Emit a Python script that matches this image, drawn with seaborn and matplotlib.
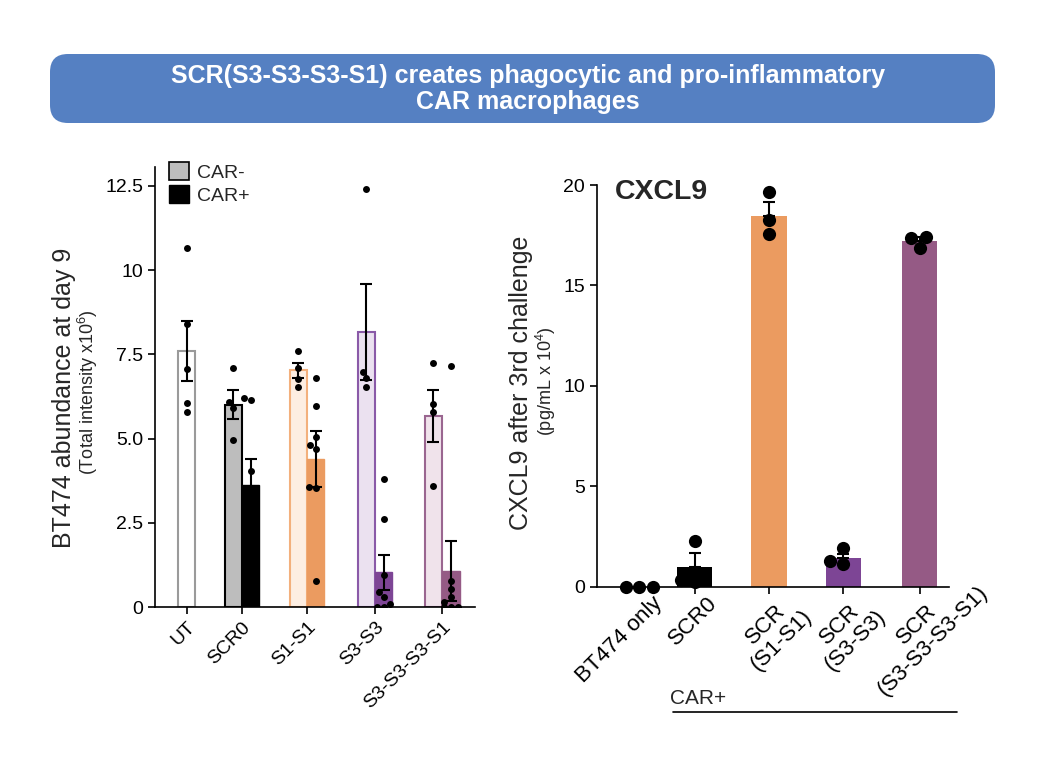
import warnings
import matplotlib
matplotlib.use("Agg")
import matplotlib.pyplot as plt
from matplotlib.patches import FancyBboxPatch, Patch
from matplotlib.lines import Line2D
from matplotlib.transforms import ScaledTranslation, Affine2D
import pandas as pd
import seaborn as sns

warnings.filterwarnings("ignore")

sns.set_style("ticks")
plt.rcParams["font.family"] = ["Liberation Sans", "DejaVu Sans"]
plt.rcParams["mathtext.default"] = "regular"
plt.rcParams["mathtext.fontset"] = "custom"
plt.rcParams["mathtext.rm"] = "Liberation Sans"

# ---- left panel: BT474 abundance at day 9 ----
left_groups = ["UT", "SCR0", "S1-S1", "S3-S3", "S3-S3-S3-S1"]
car_neg_mean = [7.6, 6.01, 7.02, 8.17, 5.67]
car_neg_sem = [0.89, 0.44, 0.23, 1.42, 0.76]
car_pos_mean = [3.62, 4.38, 1.03, 1.08]          # no CAR+ bar for UT
car_pos_sem = [0.76, 0.83, 0.52, 0.89]

ut_pts = [10.66, 8.4, 7.07, 6.06, 5.79]
scr0_neg_pts = [7.1, 6.07, 5.91, 4.96]
scr0_pos_pts = [6.2, 6.15, 4.05, 3.25, 2.35, 2.2, 1.15]
s1_neg_pts = [7.61, 7.08, 6.76, 6.52]
s1_pos_pts = [6.79, 5.96, 5.05, 4.81, 4.68, 3.57, 3.52, 0.77]
s3_neg_pts = [12.42, 6.98, 6.79, 6.54]
s3_pos_pts = [3.8, 2.6, 0.95, 0.45, 0.3, 0.1, 0.0, 0.0]
s331_neg_pts = [7.23, 6.02, 5.78, 3.59]
s331_pos_pts = [7.14, 0.78, 0.52, 0.3, 0.16, 0.0, 0.0, 0.0]

neg_fill = ["#ffffff", "#bdbdbd", "#fdeee2", "#ebe1f0", "#f0e3eb"]
neg_edge = ["#9a9a9a", "#000000", "#f3b07c", "#8a5aa8", "#9a6690"]
pos_fill = ["#000000", "#eb9b60", "#7d4595", "#955a85"]

# ---- right panel: CXCL9 ----
right_groups = ["BT474 only", "SCR0", "SCR\n(S1-S1)", "SCR\n(S3-S3)",
                "SCR\n(S3-S3-S3-S1)"]
cxcl9_mean = [0.0, 0.97, 18.48, 1.41, 17.22]
cxcl9_sem = [0.0, 0.69, 0.66, 0.22, 0.17]
bt474_pts = [0.0, 0.0, 0.0]
scr0_pts = [2.3, 0.35, 0.25]
scr_s1_pts = [19.67, 18.26, 17.56]
scr_s3_pts = [1.91, 1.29, 1.13]
scr_s331_pts = [17.35, 17.43, 16.85]
right_fill = ["#000000", "#000000", "#eb9b60", "#7d4595", "#955a85"]

# layout (axis units)
left_ticks = [0.0, 1.0, 2.175, 3.405, 4.617]
bw_left = 0.316
right_ticks = [0.25, 1.0, 2.0, 3.0, 4.04]
bw_right = 0.473

W, H = 1063, 766
fig = plt.figure(figsize=(W / 100, H / 100), dpi=100)

# title banner
banner = FancyBboxPatch((0.50, 6.43), 9.45, 0.69,
                        boxstyle="round,pad=0,rounding_size=0.18",
                        transform=fig.dpi_scale_trans,
                        facecolor="#5580c2", edgecolor="none")
fig.patches.append(banner)
fig.text(528 / W, 1 - 89 / H,
         "SCR(S3-S3-S3-S1) creates phagocytic and pro-inflammatory\nCAR macrophages",
         ha="center", va="center", color="white", fontsize=18,
         fontweight="bold", linespacing=1.12)

ax1 = fig.add_axes([155 / W, 1 - 607 / H, 320 / W, 440 / H])
ax2 = fig.add_axes([597 / W, 1 - 586.7 / H, 352 / W, 401.7 / H])

# left bars
neg_x = [left_ticks[0]] + [t - bw_left / 2 for t in left_ticks[1:]]
pos_x = [t + bw_left / 2 for t in left_ticks[1:]]
ax1.bar(neg_x, car_neg_mean, width=bw_left, color=neg_fill,
        edgecolor=neg_edge, linewidth=1.5, zorder=1)
ax1.bar(pos_x, car_pos_mean, width=bw_left, color=pos_fill,
        edgecolor=pos_fill, linewidth=1.0, zorder=1)
ax1.errorbar(neg_x, car_neg_mean, yerr=car_neg_sem, fmt="none",
             ecolor="black", elinewidth=1.5, capsize=4, capthick=1.5, zorder=2)
ax1.errorbar(pos_x, car_pos_mean, yerr=car_pos_sem, fmt="none",
             ecolor="black", elinewidth=1.5, capsize=4, capthick=1.5, zorder=2)

left_sets = [ut_pts, scr0_neg_pts, scr0_pos_pts, s1_neg_pts, s1_pos_pts,
             s3_neg_pts, s3_pos_pts, s331_neg_pts, s331_pos_pts]
left_pos = [neg_x[0], neg_x[1], pos_x[0], neg_x[2], pos_x[1],
            neg_x[3], pos_x[2], neg_x[4], pos_x[3]]
left_df = pd.DataFrame(
    [(p, v) for p, vals in zip(left_pos, left_sets) for v in vals],
    columns=["pos", "value"])
sns.swarmplot(data=left_df, x="pos", y="value", native_scale=True,
              orient="x", color="black", size=5, ax=ax1, zorder=3)

ax1.set_xlim(-0.573, 5.213)
ax1.set_ylim(0, 13.06)
ax1.set_yticks([0, 2.5, 5, 7.5, 10, 12.5])
ax1.set_yticklabels(["0", "2.5", "5.0", "7.5", "10", "12.5"])
ax1.set_xticks(left_ticks)
ax1.set_xticklabels(left_groups, rotation=45, ha="right",
                    rotation_mode="anchor")
ax1.set_xlabel("")
ax1.set_ylabel("")

legend_handles = [Patch(facecolor="#bdbdbd", edgecolor="black", linewidth=1.2,
                        label="CAR-"),
                  Patch(facecolor="black", edgecolor="black", label="CAR+")]
ax1.legend(handles=legend_handles, loc="upper left",
           bbox_to_anchor=(0.045, 1.011), frameon=False, fontsize=14,
           handlelength=1.0, handleheight=1.0, handletextpad=0.4,
           labelspacing=0.2, borderpad=0, borderaxespad=0)

# right bars
ax2.bar(right_ticks, cxcl9_mean, width=bw_right, color=right_fill,
        edgecolor="none", zorder=1)
ax2.errorbar(right_ticks, cxcl9_mean,
             yerr=[[0] * len(cxcl9_sem), cxcl9_sem], fmt="none",
             ecolor="black", elinewidth=1.5, capsize=4, capthick=1.5, zorder=2)

right_sets = [bt474_pts, scr0_pts, scr_s1_pts, scr_s3_pts, scr_s331_pts]
right_df = pd.DataFrame(
    [(p, v) for p, vals in zip(right_ticks, right_sets) for v in vals],
    columns=["pos", "value"])
sns.swarmplot(data=right_df, x="pos", y="value", native_scale=True,
              orient="x", color="black", size=9.5, ax=ax2, zorder=3,
              clip_on=False)

ax2.set_xlim(-0.324, 4.432)
ax2.set_ylim(0, 20)
ax2.set_yticks([0, 5, 10, 15, 20])
ax2.set_xticks(right_ticks)
ax2.set_xticklabels(right_groups, rotation=45, ha="right", va="top",
                    rotation_mode="anchor", multialignment="center",
                    fontsize=16, linespacing=1.1)
ax2.set_xlabel("")
ax2.set_ylabel("")
ax2.text(0.05, 0.983, "CXCL9", transform=ax2.transAxes, ha="left",
         va="center", fontsize=20.5, fontweight="bold")

for ax in (ax1, ax2):
    sns.despine(ax=ax)
    for s in ("left", "bottom"):
        ax.spines[s].set_linewidth(1.2)
        ax.spines[s].set_color("black")
    ax.tick_params(axis="both", length=5, width=1.2, color="black",
                   labelcolor="black")
    ax.tick_params(axis="y", labelsize=14)
ax1.tick_params(axis="x", labelsize=14)

# place the right-panel category labels like the original: the first line
# ("SCR") of two-line labels sits where a one-line label would end
fig.canvas.draw()
renderer = fig.canvas.get_renderer()
shift = ScaledTranslation(0.12, 0.06, fig.dpi_scale_trans)
for lab in ax2.get_xticklabels():
    tr = lab.get_transform() + shift
    lines = lab.get_text().split("\n")
    if len(lines) > 1:
        widths = [renderer.get_text_width_height_descent(
            ln, lab.get_fontproperties(), ismath=False)[0] for ln in lines]
        along = (max(widths) - widths[0]) / 2 * 0.7071
        tr = tr + Affine2D().translate(along - 6, along - 8)
    lab.set_transform(tr)

# axis titles
fig.text(64 / W, 1 - 398 / H, "BT474 abundance at day 9", rotation=90,
         ha="center", va="center", fontsize=18)
fig.text(88 / W, 1 - 392 / H, "(Total intensity x10$^{6}$)", rotation=90,
         ha="center", va="center", fontsize=13)
fig.text(521 / W, 1 - 383 / H, "CXCL9 after 3rd challenge", rotation=90,
         ha="center", va="center", fontsize=18)
fig.text(546 / W, 1 - 381 / H, "(pg/mL x 10$^{4}$)", rotation=90,
         ha="center", va="center", fontsize=13)

# CAR+ group bracket under right panel
fig.text(670 / W, 1 - 698 / H, "CAR+", ha="left", va="center", fontsize=15)
fig.add_artist(Line2D([673 / W, 957 / W], [1 - 712 / H, 1 - 712 / H],
                      color="black", linewidth=1.2))

fig.savefig("out.png", dpi=100)
